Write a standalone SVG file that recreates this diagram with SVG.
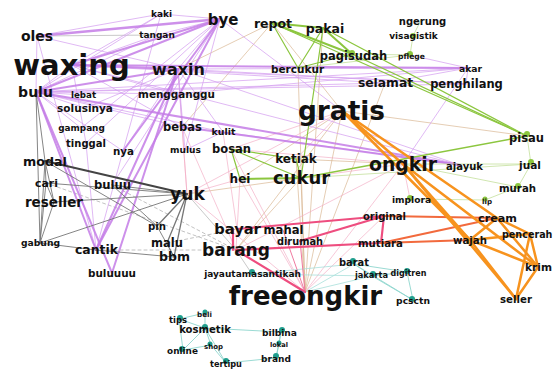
<svg xmlns="http://www.w3.org/2000/svg" width="555" height="369" viewBox="0 0 555 369">
<style>
text{font-family:"DejaVu Sans","Liberation Sans",sans-serif;font-weight:bold;fill:#111;text-anchor:middle}
line{stroke-linecap:round;fill:none}
.ph{stroke:#c47ce6;stroke-width:2;opacity:.85}
.pt{stroke:#d49df0;stroke-width:.9;opacity:.8}
.gh{stroke:#8cc63f;stroke-width:2}
.gm{stroke:#8cc63f;stroke-width:1.2}
.gl{stroke:#c4e09c;stroke-width:.8}
.oh{stroke:#f7931e;stroke-width:2.5}
.or{stroke:#f26a3d;stroke-width:2}
.pk{stroke:#ee4d7f;stroke-width:2.2}
.pkt{stroke:#f07aa0;stroke-width:1}
.dk{stroke:#444;stroke-width:1.8}
.dt{stroke:#777;stroke-width:.9}
.ftan{stroke:#d6b189;stroke-width:.8;opacity:.8}
.fpink{stroke:#f2a9c2;stroke-width:.8;opacity:.8}
.fgray{stroke:#aaa;stroke-width:.8;opacity:.8}
.fdash{stroke:#bbb;stroke-width:.9;stroke-dasharray:3 3}
.fteal{stroke:#a8e0da;stroke-width:.8}
.tl{stroke:#8fd6ce;stroke-width:.9}
.gd{fill:#8cc63f}
.td{fill:#1f9e8d}
</style>
<rect width="555" height="369" fill="#fff"/>
<g id="edges">
<line class="ftan" x1="305" y1="292" x2="342" y2="111"/>
<line class="ftan" x1="305" y1="292" x2="301" y2="178"/>
<line class="ftan" x1="305" y1="292" x2="296" y2="159"/>
<line class="ftan" x1="305" y1="292" x2="323" y2="28"/>
<line class="ftan" x1="305" y1="292" x2="298" y2="68"/>
<line class="ftan" x1="305" y1="292" x2="385" y2="83"/>
<line class="ftan" x1="236" y1="250" x2="342" y2="111"/>
<line class="ftan" x1="236" y1="250" x2="301" y2="178"/>
<line class="ftan" x1="342" y1="111" x2="240" y2="179"/>
<line class="ftan" x1="342" y1="111" x2="272" y2="23"/>
<line class="ftan" x1="342" y1="111" x2="527" y2="136"/>
<line class="ftan" x1="272" y1="23" x2="178" y2="69"/>
<line class="ftan" x1="272" y1="23" x2="182" y2="127"/>
<line class="ftan" x1="403" y1="164" x2="296" y2="159"/>
<line class="ftan" x1="187" y1="194" x2="301" y2="178"/>
<line class="fpink" x1="305" y1="292" x2="403" y2="164"/>
<line class="fpink" x1="305" y1="292" x2="231" y2="149"/>
<line class="fpink" x1="305" y1="292" x2="240" y2="179"/>
<line class="fpink" x1="305" y1="292" x2="187" y2="194"/>
<line class="fpink" x1="305" y1="292" x2="384" y2="216"/>
<line class="fpink" x1="236" y1="250" x2="403" y2="164"/>
<line class="fpink" x1="236" y1="250" x2="240" y2="179"/>
<line class="fpink" x1="342" y1="111" x2="187" y2="194"/>
<line class="fpink" x1="342" y1="111" x2="231" y2="149"/>
<line class="fpink" x1="342" y1="111" x2="296" y2="159"/>
<line class="fpink" x1="187" y1="194" x2="182" y2="127"/>
<line class="fpink" x1="187" y1="194" x2="178" y2="69"/>
<line class="fpink" x1="187" y1="194" x2="240" y2="179"/>
<line class="fpink" x1="403" y1="164" x2="301" y2="178"/>
<line class="fpink" x1="237" y1="229" x2="223" y2="132"/>
<line class="fpink" x1="236" y1="250" x2="182" y2="127"/>
<line class="fpink" x1="403" y1="164" x2="231" y2="149"/>
<line class="fpink" x1="403" y1="164" x2="410" y2="199"/>
<line class="fgray" x1="37" y1="36" x2="157" y2="35"/>
<line class="fgray" x1="236" y1="250" x2="187" y2="194"/>
<line class="fgray" x1="236" y1="250" x2="252" y2="274"/>
<line class="fdash" x1="112" y1="185" x2="236" y2="250"/>
<line class="fdash" x1="46" y1="183" x2="236" y2="250"/>
<line class="fdash" x1="96" y1="250" x2="236" y2="250"/>
<line class="fdash" x1="167" y1="243" x2="237" y2="229"/>
<line class="fteal" x1="252" y1="274" x2="354" y2="264"/>
<line class="fteal" x1="305" y1="292" x2="354" y2="264"/>
<line class="fteal" x1="305" y1="292" x2="372" y2="276"/>
<line class="fteal" x1="252" y1="274" x2="372" y2="276"/>
<line class="pt" x1="37" y1="36" x2="178" y2="69"/>
<line class="pt" x1="37" y1="36" x2="36" y2="92"/>
<line class="pt" x1="37" y1="36" x2="161" y2="14"/>
<line class="pt" x1="161" y1="14" x2="36" y2="92"/>
<line class="pt" x1="161" y1="14" x2="72" y2="65"/>
<line class="pt" x1="161" y1="14" x2="220" y2="19"/>
<line class="pt" x1="161" y1="14" x2="123" y2="151"/>
<line class="pt" x1="157" y1="35" x2="36" y2="92"/>
<line class="pt" x1="157" y1="35" x2="72" y2="65"/>
<line class="pt" x1="157" y1="35" x2="220" y2="19"/>
<line class="pt" x1="220" y1="19" x2="178" y2="69"/>
<line class="pt" x1="220" y1="19" x2="81" y2="128"/>
<line class="pt" x1="220" y1="19" x2="86" y2="143"/>
<line class="pt" x1="220" y1="19" x2="112" y2="185"/>
<line class="pt" x1="72" y1="65" x2="36" y2="92"/>
<line class="pt" x1="72" y1="65" x2="385" y2="83"/>
<line class="pt" x1="72" y1="65" x2="466" y2="84"/>
<line class="pt" x1="72" y1="65" x2="176" y2="94"/>
<line class="pt" x1="72" y1="65" x2="182" y2="127"/>
<line class="pt" x1="72" y1="65" x2="460" y2="165"/>
<line class="pt" x1="178" y1="69" x2="85" y2="108"/>
<line class="pt" x1="178" y1="69" x2="468" y2="68"/>
<line class="pt" x1="178" y1="69" x2="466" y2="84"/>
<line class="pt" x1="178" y1="69" x2="460" y2="165"/>
<line class="pt" x1="178" y1="69" x2="223" y2="132"/>
<line class="pt" x1="178" y1="69" x2="123" y2="151"/>
<line class="pt" x1="36" y1="92" x2="83" y2="95"/>
<line class="pt" x1="36" y1="92" x2="176" y2="94"/>
<line class="pt" x1="36" y1="92" x2="85" y2="108"/>
<line class="pt" x1="36" y1="92" x2="182" y2="127"/>
<line class="pt" x1="36" y1="92" x2="223" y2="132"/>
<line class="pt" x1="36" y1="92" x2="468" y2="68"/>
<line class="pt" x1="36" y1="92" x2="123" y2="151"/>
<line class="pt" x1="36" y1="92" x2="466" y2="84"/>
<line class="pt" x1="36" y1="92" x2="385" y2="83"/>
<line class="pt" x1="96" y1="250" x2="123" y2="151"/>
<line class="pt" x1="96" y1="250" x2="86" y2="143"/>
<line class="pt" x1="176" y1="94" x2="468" y2="68"/>
<line class="pt" x1="185" y1="150" x2="223" y2="132"/>
<line class="pt" x1="223" y1="132" x2="460" y2="165"/>
<line class="pt" x1="385" y1="83" x2="468" y2="68"/>
<line class="pt" x1="466" y1="84" x2="468" y2="68"/>
<line class="pt" x1="37" y1="36" x2="96" y2="250"/>
<line class="pt" x1="36" y1="92" x2="81" y2="128"/>
<line class="pt" x1="72" y1="65" x2="86" y2="143"/>
<line class="pt" x1="220" y1="19" x2="185" y2="150"/>
<line class="pt" x1="220" y1="19" x2="342" y2="111"/>
<line class="pt" x1="468" y1="68" x2="403" y2="164"/>
<line class="pt" x1="410" y1="55" x2="468" y2="68"/>
<line class="pt" x1="178" y1="69" x2="185" y2="150"/>
<line class="pt" x1="178" y1="69" x2="182" y2="127"/>
<line class="ph" x1="37" y1="36" x2="220" y2="19" style="stroke-width:2.6"/>
<line class="ph" x1="220" y1="19" x2="36" y2="92"/>
<line class="ph" x1="220" y1="19" x2="72" y2="65"/>
<line class="ph" x1="220" y1="19" x2="96" y2="250"/>
<line class="ph" x1="220" y1="19" x2="123" y2="151"/>
<line class="ph" x1="72" y1="65" x2="178" y2="69"/>
<line class="ph" x1="36" y1="92" x2="96" y2="250"/>
<line class="ph" x1="36" y1="92" x2="460" y2="165"/>
<line class="ph" x1="178" y1="69" x2="96" y2="250"/>
<line class="ph" x1="36" y1="92" x2="112" y2="273"/>
<line class="ph" x1="178" y1="69" x2="112" y2="273"/>
<line class="ph" x1="36" y1="92" x2="178" y2="69"/>
<line class="ph" x1="72" y1="65" x2="468" y2="68"/>
<line class="ph" x1="182" y1="127" x2="460" y2="165"/>
<line class="dt" x1="45" y1="161" x2="46" y2="183"/>
<line class="dt" x1="45" y1="161" x2="54" y2="202"/>
<line class="dt" x1="45" y1="161" x2="40" y2="243"/>
<line class="dt" x1="46" y1="183" x2="54" y2="202"/>
<line class="dt" x1="46" y1="183" x2="40" y2="243"/>
<line class="dt" x1="54" y1="202" x2="40" y2="243"/>
<line class="dt" x1="40" y1="243" x2="187" y2="194"/>
<line class="dt" x1="54" y1="202" x2="187" y2="194"/>
<line class="dt" x1="187" y1="194" x2="157" y2="226" style="stroke-width:1.3"/>
<line class="dt" x1="187" y1="194" x2="167" y2="243" style="stroke-width:1.3"/>
<line class="dt" x1="187" y1="194" x2="174" y2="257" style="stroke-width:1.3"/>
<line class="dt" x1="157" y1="226" x2="174" y2="257"/>
<line class="dt" x1="167" y1="243" x2="174" y2="257"/>
<line class="dt" x1="96" y1="250" x2="174" y2="257"/>
<line class="dt" x1="112" y1="185" x2="187" y2="194"/>
<line class="dt" x1="45" y1="161" x2="157" y2="226"/>
<line class="dt" x1="46" y1="183" x2="187" y2="194"/>
<line class="dt" x1="112" y1="185" x2="157" y2="226"/>
<line class="dt" x1="40" y1="243" x2="96" y2="250"/>
<line class="dt" x1="36" y1="92" x2="40" y2="243"/>
<line class="dt" x1="36" y1="92" x2="45" y2="161"/>
<line class="dk" x1="45" y1="161" x2="187" y2="194"/>
<line class="gl" x1="413" y1="36" x2="421" y2="20"/>
<line class="gl" x1="413" y1="36" x2="410" y2="55"/>
<line class="gl" x1="410" y1="55" x2="352" y2="54"/>
<line class="gl" x1="531" y1="164" x2="518" y2="187"/>
<line class="gl" x1="485" y1="200" x2="518" y2="187"/>
<line class="gl" x1="531" y1="164" x2="527" y2="136"/>
<line class="gl" x1="518" y1="187" x2="403" y2="164"/>
<line class="gl" x1="410" y1="199" x2="485" y2="200"/>
<line class="gl" x1="298" y1="68" x2="410" y2="55"/>
<line class="gl" x1="403" y1="164" x2="531" y2="164"/>
<line class="gl" x1="301" y1="178" x2="531" y2="164"/>
<line class="gm" x1="272" y1="23" x2="298" y2="68"/>
<line class="gm" x1="323" y1="28" x2="298" y2="68"/>
<line class="gm" x1="323" y1="28" x2="301" y2="178"/>
<line class="gm" x1="272" y1="23" x2="527" y2="136"/>
<line class="gm" x1="323" y1="28" x2="527" y2="136"/>
<line class="gm" x1="231" y1="149" x2="240" y2="179"/>
<line class="gm" x1="231" y1="149" x2="296" y2="159"/>
<line class="gm" x1="231" y1="149" x2="301" y2="178"/>
<line class="gm" x1="296" y1="159" x2="301" y2="178"/>
<line class="gm" x1="352" y1="54" x2="527" y2="136"/>
<line class="gm" x1="298" y1="68" x2="352" y2="54"/>
<line class="gm" x1="301" y1="178" x2="527" y2="136" style="stroke-width:1.5"/>
<line class="gh" x1="272" y1="23" x2="323" y2="28"/>
<line class="gh" x1="272" y1="23" x2="352" y2="54"/>
<line class="gh" x1="323" y1="28" x2="352" y2="54"/>
<line class="gh" x1="240" y1="179" x2="301" y2="178"/>
<line class="pkt" x1="283" y1="230" x2="305" y2="292"/>
<line class="pkt" x1="300" y1="241" x2="305" y2="292"/>
<line class="pk" x1="237" y1="229" x2="384" y2="216"/>
<line class="pk" x1="236" y1="250" x2="381" y2="243"/>
<line class="pk" x1="300" y1="241" x2="384" y2="216"/>
<line class="pk" x1="384" y1="216" x2="381" y2="243"/>
<line class="pk" x1="236" y1="250" x2="305" y2="292"/>
<line class="pk" x1="233" y1="229" x2="233" y2="250"/>
<line class="or" x1="384" y1="216" x2="497" y2="218"/>
<line class="or" x1="381" y1="243" x2="470" y2="240"/>
<line class="or" x1="381" y1="243" x2="497" y2="218"/>
<line class="oh" x1="342" y1="111" x2="403" y2="164"/>
<line class="oh" x1="342" y1="111" x2="497" y2="218"/>
<line class="oh" x1="342" y1="111" x2="470" y2="240"/>
<line class="oh" x1="403" y1="164" x2="516" y2="299"/>
<line class="oh" x1="403" y1="164" x2="538" y2="267"/>
<line class="oh" x1="403" y1="164" x2="470" y2="240"/>
<line class="oh" x1="497" y1="218" x2="470" y2="240"/>
<line class="oh" x1="497" y1="218" x2="530" y2="234"/>
<line class="oh" x1="497" y1="218" x2="538" y2="267"/>
<line class="oh" x1="470" y1="240" x2="530" y2="234"/>
<line class="oh" x1="470" y1="240" x2="538" y2="267"/>
<line class="oh" x1="470" y1="240" x2="516" y2="299"/>
<line class="oh" x1="530" y1="234" x2="538" y2="267"/>
<line class="oh" x1="530" y1="234" x2="516" y2="299"/>
<line class="oh" x1="538" y1="267" x2="516" y2="299"/>
<line class="tl" x1="354" y1="264" x2="372" y2="276"/>
<line class="tl" x1="354" y1="264" x2="407" y2="272"/>
<line class="tl" x1="372" y1="276" x2="407" y2="272"/>
<line class="tl" x1="372" y1="276" x2="413" y2="300"/>
<line class="tl" x1="407" y1="272" x2="413" y2="300"/>
<line class="tl" x1="354" y1="264" x2="413" y2="300"/>
<line class="tl" x1="205" y1="328" x2="179" y2="319"/>
<line class="tl" x1="205" y1="328" x2="205" y2="313"/>
<line class="tl" x1="179" y1="319" x2="205" y2="313"/>
<line class="tl" x1="205" y1="328" x2="211" y2="345"/>
<line class="tl" x1="205" y1="328" x2="183" y2="350"/>
<line class="tl" x1="205" y1="328" x2="281" y2="332"/>
<line class="tl" x1="211" y1="345" x2="183" y2="350"/>
<line class="tl" x1="211" y1="345" x2="226" y2="363"/>
<line class="tl" x1="281" y1="332" x2="279" y2="344"/>
<line class="tl" x1="279" y1="344" x2="276" y2="358"/>
<line class="tl" x1="281" y1="332" x2="276" y2="358"/>
<line class="tl" x1="226" y1="363" x2="276" y2="358"/>
<line class="tl" x1="205" y1="328" x2="226" y2="363"/>
<line class="tl" x1="179" y1="319" x2="183" y2="350"/>
</g>
<g id="n-kaki"><text x="161.5" y="17" font-size="9">kaki</text></g>
<g id="n-oles"><text x="37" y="41" font-size="14">oles</text></g>
<g id="n-tangan"><text x="157" y="38" font-size="9">tangan</text></g>
<g id="n-bye"><text x="223" y="25" font-size="15">bye</text></g>
<g id="n-repot"><text x="273" y="28" font-size="12.5">repot</text></g>
<g id="n-pakai"><text x="325" y="33" font-size="12.5">pakai</text></g>
<g id="n-ngerung"><text x="422.5" y="25" font-size="10">ngerung</text></g>
<g id="n-visagistik"><circle class="gd" cx="413" cy="36" r="3"/><text x="413.5" y="39" font-size="9">visagistik</text></g>
<g id="n-pagisudah"><circle class="gd" cx="352" cy="53" r="3"/><text x="353.5" y="60" font-size="11.5">pagisudah</text></g>
<g id="n-pflege"><circle class="gd" cx="410" cy="54" r="3"/><text x="411.5" y="59" font-size="7.6">pflege</text></g>
<g id="n-waxing"><text x="71.5" y="75" font-size="29">waxing</text></g>
<g id="n-waxin"><text x="178.5" y="75" font-size="16">waxin</text></g>
<g id="n-bercukur"><text x="297.5" y="73" font-size="10.5">bercukur</text></g>
<g id="n-akar"><text x="470.5" y="72" font-size="9.2">akar</text></g>
<g id="n-selamat"><text x="385.5" y="87" font-size="12.3">selamat</text></g>
<g id="n-penghilang"><text x="466.5" y="88" font-size="11.5">penghilang</text></g>
<g id="n-bulu"><text x="35.5" y="97" font-size="14">bulu</text></g>
<g id="n-lebat"><text x="83.5" y="98" font-size="8.7">lebat</text></g>
<g id="n-mengganggu"><text x="176.5" y="98" font-size="10.4">mengganggu</text></g>
<g id="n-solusinya"><text x="85" y="112" font-size="10.5">solusinya</text></g>
<g id="n-gratis"><text x="341.5" y="120" font-size="26.4">gratis</text></g>
<g id="n-gampang"><text x="81.5" y="131" font-size="8.9">gampang</text></g>
<g id="n-bebas"><text x="182.5" y="131" font-size="11.5">bebas</text></g>
<g id="n-kulit"><text x="223.5" y="135" font-size="9.4">kulit</text></g>
<g id="n-pisau"><circle class="gd" cx="527" cy="134" r="3"/><text x="526.5" y="142" font-size="11.5">pisau</text></g>
<g id="n-tinggal"><text x="86" y="147" font-size="10">tinggal</text></g>
<g id="n-nya"><text x="123.5" y="155" font-size="10.3">nya</text></g>
<g id="n-mulus"><text x="185.5" y="153" font-size="9.1">mulus</text></g>
<g id="n-bosan"><text x="231.5" y="153" font-size="11.5">bosan</text></g>
<g id="n-ketiak"><text x="296" y="163" font-size="12">ketiak</text></g>
<g id="n-ongkir"><text x="403" y="171" font-size="18.8">ongkir</text></g>
<g id="n-ajayuk"><text x="464.5" y="170" font-size="10">ajayuk</text></g>
<g id="n-jual"><circle class="gd" cx="531" cy="162" r="3"/><text x="530" y="169" font-size="10.6">jual</text></g>
<g id="n-modal"><text x="45" y="166" font-size="12.7">modal</text></g>
<g id="n-cari"><text x="46.5" y="187" font-size="10.9">cari</text></g>
<g id="n-buluu"><text x="112.5" y="189" font-size="11.6">buluu</text></g>
<g id="n-hei"><text x="240" y="183" font-size="12">hei</text></g>
<g id="n-cukur"><text x="301.5" y="184" font-size="18">cukur</text></g>
<g id="n-murah"><circle class="gd" cx="518" cy="186" r="3"/><text x="517.5" y="192" font-size="10.2">murah</text></g>
<g id="n-reseller"><text x="54" y="207" font-size="13.5">reseller</text></g>
<g id="n-yuk"><text x="187.5" y="200" font-size="17.2">yuk</text></g>
<g id="n-implora"><circle class="gd" cx="410" cy="198" r="3"/><text x="411.5" y="203" font-size="9.1">implora</text></g>
<g id="n-lip"><circle class="gd" cx="485" cy="199" r="2.5"/><text x="487" y="204" font-size="7.1">lip</text></g>
<g id="n-original"><text x="384.5" y="220" font-size="10">original</text></g>
<g id="n-cream"><text x="497.5" y="222" font-size="11.2">cream</text></g>
<g id="n-pin"><text x="157" y="230" font-size="10.2">pin</text></g>
<g id="n-bayar"><text x="237.5" y="234" font-size="14.6">bayar</text></g>
<g id="n-mahal"><text x="283.5" y="234" font-size="11.6">mahal</text></g>
<g id="n-pencerah"><text x="502" y="238" font-size="9.6" style="text-anchor:start">pencerah</text></g>
<g id="n-dirumah"><text x="300" y="245" font-size="9.8">dirumah</text></g>
<g id="n-mutiara"><text x="380.5" y="247" font-size="10.2">mutiara</text></g>
<g id="n-wajah"><text x="470" y="244" font-size="10.2">wajah</text></g>
<g id="n-malu"><text x="167" y="247" font-size="11.5">malu</text></g>
<g id="n-gabung"><text x="40.5" y="246" font-size="9.2">gabung</text></g>
<g id="n-cantik"><text x="96.5" y="254" font-size="12.4">cantik</text></g>
<g id="n-barang"><text x="236" y="256" font-size="17">barang</text></g>
<g id="n-bbm"><text x="174.5" y="261" font-size="12.5">bbm</text></g>
<g id="n-krim"><text x="538.5" y="271" font-size="10.6">krim</text></g>
<g id="n-buluuuu"><text x="112" y="277" font-size="10.4">buluuuu</text></g>
<g id="n-jayautamasantikah"><circle class="td" cx="252" cy="272" r="3"/><text x="252.5" y="277" font-size="9">jayautamasantikah</text></g>
<g id="n-barat"><circle class="td" cx="353" cy="261" r="3"/><text x="354" y="266" font-size="9.9">barat</text></g>
<g id="n-digitren"><circle class="td" cx="407" cy="271" r="3"/><text x="408.5" y="276" font-size="8">digitren</text></g>
<g id="n-jakarta"><circle class="td" cx="373" cy="274" r="3"/><text x="371.5" y="278" font-size="8.3">jakarta</text></g>
<g id="n-freeongkir"><text x="305.5" y="305" font-size="26">freeongkir</text></g>
<g id="n-pcsctn"><circle class="td" cx="412" cy="299" r="3"/><text x="413" y="304" font-size="9.2">pcsctn</text></g>
<g id="n-seller"><text x="516" y="303" font-size="10.2">seller</text></g>
<g id="n-tips"><circle class="td" cx="180" cy="318" r="3"/><text x="178" y="323" font-size="8.5">tips</text></g>
<g id="n-beli"><circle class="td" cx="205" cy="312" r="2.5"/><text x="204.5" y="317" font-size="7.2">beli</text></g>
<g id="n-kosmetik"><circle class="td" cx="205" cy="327" r="3"/><text x="205" y="333" font-size="10.1">kosmetik</text></g>
<g id="n-bilbina"><circle class="td" cx="282" cy="330" r="3"/><text x="279.5" y="336" font-size="9.1">bilbina</text></g>
<g id="n-online"><circle class="td" cx="182" cy="349" r="3"/><text x="182.5" y="354" font-size="8.9">online</text></g>
<g id="n-shop"><circle class="td" cx="210" cy="344" r="2.5"/><text x="213.5" y="349" font-size="7">shop</text></g>
<g id="n-lokal"><circle class="td" cx="279" cy="343" r="2.5"/><text x="279" y="347" font-size="6.6">lokal</text></g>
<g id="n-brand"><circle class="td" cx="276" cy="356" r="3"/><text x="276" y="362" font-size="9">brand</text></g>
<g id="n-tertipu"><circle class="td" cx="226" cy="361" r="3"/><text x="226" y="367" font-size="8.2">tertipu</text></g>
</svg>
